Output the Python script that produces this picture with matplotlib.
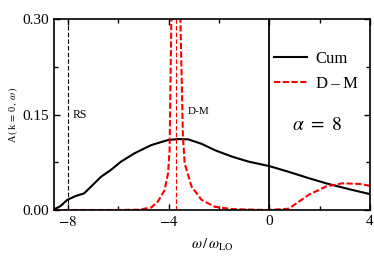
import numpy as np
from matplotlib import pyplot as plt

plt.rcParams['font.family'] = ['Liberation Serif', 'DejaVu Serif']
plt.rcParams['mathtext.fontset'] = 'stix'

# Cumulant spectral function
cum_w = [-8.55, -8.3, -8.02, -7.69, -7.36, -7.02, -6.69, -6.29, -5.89, -5.36,
         -4.69, -4.02, -3.62, -3.22, -2.69, -2.16, -1.49, -0.82, 0.0, 0.77,
         1.57, 2.25, 3.19, 4.0]
cum_A = [0.001, 0.006, 0.016, 0.022, 0.026, 0.039, 0.052, 0.063, 0.076, 0.089,
         0.102, 0.110, 0.1115, 0.111, 0.104, 0.094, 0.084, 0.076, 0.069, 0.060,
         0.050, 0.042, 0.0325, 0.025]

# Dyson-Migdal spectral function
dm_w = [-8.55, -6.0, -5.17, -4.69, -4.43, -4.16, -4.02, -3.96, -3.89, -3.8,
        -3.7, -3.6, -3.53, -3.43, -3.36, -3.09, -2.69, -2.16, -1.49, -0.1,
        0.77, 1.17, 1.57, 2.25, 2.91, 3.57, 4.0]
dm_A = [0.0, 0.0, 0.0005, 0.004, 0.013, 0.031, 0.058, 0.094, 0.30, 0.8,
        2.0, 0.8, 0.30, 0.115, 0.073, 0.037, 0.016, 0.005, 0.0015, 0.0,
        0.002, 0.013, 0.024, 0.037, 0.042, 0.041, 0.038]

rs_pos = -8.0
dm_pos = -3.7

fig = plt.figure(figsize=(3.74, 2.58), dpi=100)
ax = fig.add_axes([0.1444, 0.186, 0.845, 0.740])

ax.plot(cum_w, cum_A, color='black', lw=1.5, label='Cum')
ax.plot(dm_w, dm_A, color='red', lw=1.5, ls=(0, (3, 1.2)), label='D\u2009\u2013\u2009M')

ax.axvline(rs_pos, color='black', lw=0.8, ls=(0, (4, 2)))
ax.axvline(dm_pos, color='red', lw=0.8, ls=(0, (4, 2)))
ax.axvline(0, color='black', lw=1.3)

ax.text(rs_pos + 0.18, 0.15, 'RS', fontsize=8.5, va='center')
ax.text(dm_pos + 0.45, 0.155, 'D-M', fontsize=8, va='center')
ax.text(1.9, 0.133, r'$\alpha\ =\ 8$', fontsize=14, ha='center', va='center')

ax.set_xlim(-8.55, 4)
ax.set_ylim(0, 0.30)
ax.set_xticks([-8, -4, 0, 4])
ax.set_xticklabels([r'$-8$', r'$-4$', '0', '4'])
ax.set_xticks([-6, -2, 2], minor=True)
ax.set_yticks([0.0, 0.15, 0.30])
ax.set_yticklabels(['0.00', '0.15', '0.30'])
ax.set_yticks([0.075, 0.225], minor=True)
ax.tick_params(which='both', direction='in', top=True, right=True, labelsize=11)
ax.tick_params(which='major', length=4, width=1)
ax.tick_params(which='minor', length=3, width=1)
for s in ax.spines.values():
    s.set_linewidth(1.2)

ax.set_xlabel(r'$\omega\,/\,\omega_{\rm LO}$', fontsize=10.5, labelpad=6)
ax.set_ylabel(r'A$\,(\,$k$\,=\,$0$\,,\,\omega\,)$', fontsize=7.5, labelpad=2)

ax.legend(loc='upper left', bbox_to_anchor=(0.675, 0.87), frameon=False,
          fontsize=12, handlelength=2.0, handletextpad=0.5, labelspacing=0.55,
          borderaxespad=0)

fig.savefig('out.png', dpi=100)
